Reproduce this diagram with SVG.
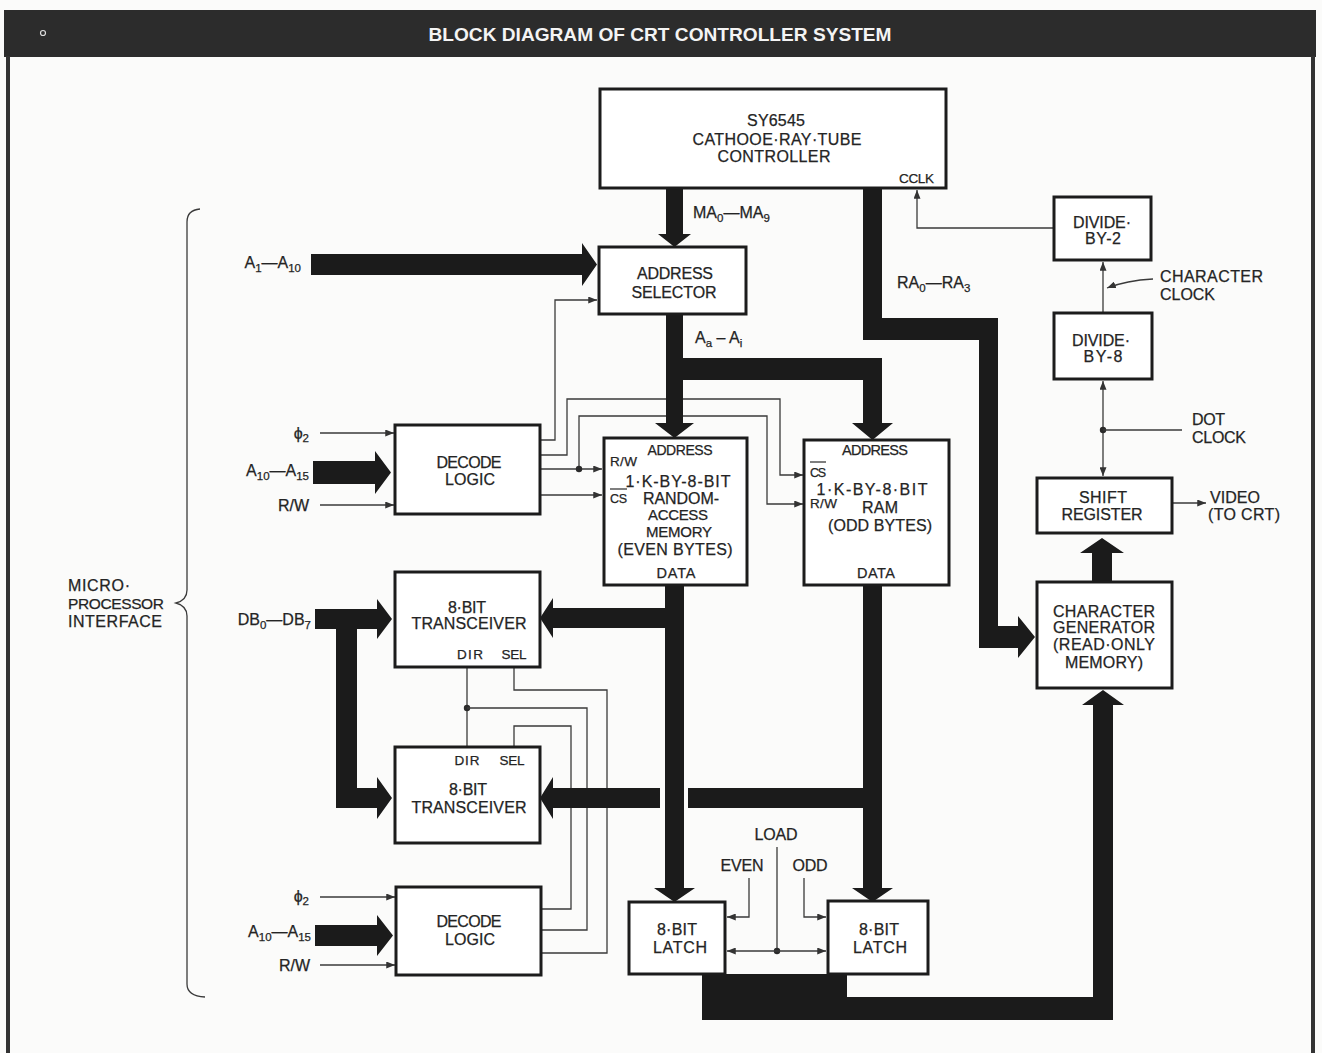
<svg xmlns="http://www.w3.org/2000/svg" width="1322" height="1053" viewBox="0 0 1322 1053">
<defs>
<marker id="ah" viewBox="0 0 10 8" refX="10" refY="4" markerWidth="9" markerHeight="7" markerUnits="userSpaceOnUse" orient="auto-start-reverse">
<path d="M0,0 L10,4 L0,8 z" fill="#333"/>
</marker>
<style>
.t{font-family:"Liberation Sans",Arial,Helvetica,sans-serif;font-size:16px;fill:#242424;stroke:#242424;stroke-width:0.25;text-anchor:middle}
.s{font-size:13.5px}
.l{text-anchor:start}
.r{text-anchor:end}
.sub{font-size:11.5px}
.box{fill:#fff;stroke:#1c1c1c;stroke-width:3}
.w{fill:none;stroke:#3a3a3a;stroke-width:1.3}
.bus{fill:#1b1b1b}
.dot{fill:#2a2a2a}
.ttl{font-family:"Liberation Sans",Arial,Helvetica,sans-serif;font-size:19px;font-weight:bold;fill:#f4f4f4;text-anchor:middle}
</style>
</defs>

<!-- page -->
<rect width="1322" height="1053" fill="#fbfbfa"/>
<rect x="4" y="10" width="1312" height="47" fill="#2c2c2c"/>
<circle cx="43" cy="33" r="2.5" fill="none" stroke="#ddd" stroke-width="1.2"/>
<text class="ttl" x="660" y="41" textLength="463" lengthAdjust="spacingAndGlyphs">BLOCK DIAGRAM OF CRT CONTROLLER SYSTEM</text>
<rect x="6" y="56" width="4" height="997" fill="#333"/>
<rect x="1311" y="56" width="4" height="997" fill="#333"/>

<!-- microprocessor interface brace -->
<g id="interface">
<path class="w" d="M200 209 Q187 210 187 222 V590 Q187 600 176 603 Q187 606 187 616 V984 Q187 996 205 997"/>
<text class="t l" x="68" y="591" textLength="62">MICRO·</text>
<text class="t l" x="68" y="609" style="font-size:15.5px" textLength="96">PROCESSOR</text>
<text class="t l" x="68" y="627" textLength="94">INTERFACE</text>
</g>

<g id="connectors">
<!-- thin control wires -->
<path class="w" d="M320 433H394" marker-end="url(#ah)"/>
<path class="w" d="M320 505H394" marker-end="url(#ah)"/>
<path class="w" d="M540 440H555V300H597" marker-end="url(#ah)"/>
<path class="w" d="M540 455H567V399H780V475H803" marker-end="url(#ah)"/>
<path class="w" d="M540 469H602" marker-end="url(#ah)"/>
<path class="w" d="M579 469V416H767V504H803" marker-end="url(#ah)"/>
<path class="w" d="M540 495H602" marker-end="url(#ah)"/>
<circle class="dot" cx="579" cy="469" r="3.2"/>

<path class="w" d="M467 667V746"/>
<circle class="dot" cx="467" cy="708" r="3.2"/>
<path class="w" d="M467 708H587V930H542"/>
<path class="w" d="M514 667V690H607V953H542"/>
<path class="w" d="M514 746V726H571V909H542"/>
<path class="w" d="M320 897H395" marker-end="url(#ah)"/>
<path class="w" d="M320 965H395" marker-end="url(#ah)"/>

<path class="w" d="M777 847V951"/>
<circle class="dot" cx="777" cy="951" r="3.2"/>
<path class="w" d="M777 951H727" marker-end="url(#ah)"/>
<path class="w" d="M777 951H826" marker-end="url(#ah)"/>
<path class="w" d="M749 878V917H727" marker-end="url(#ah)"/>
<path class="w" d="M804 878V917H826" marker-end="url(#ah)"/>

<path class="w" d="M1054 228H917V190" marker-end="url(#ah)"/>
<path class="w" d="M1103 312V262" marker-end="url(#ah)"/>
<path class="w" d="M1153 279C1135 280 1120 283 1107 288" marker-end="url(#ah)"/>
<path class="w" d="M1103 381V476" marker-start="url(#ah)" marker-end="url(#ah)"/>
<circle class="dot" cx="1103" cy="430" r="3.2"/>
<path class="w" d="M1103 430H1182"/>
<path class="w" d="M1173 503H1206" marker-end="url(#ah)"/>

<!-- wide buses -->
<path class="bus" d="M666 188H683V234H691L674.5 247L658 234H666Z"/>
<path class="bus" d="M311 254H582V243L597 264.5L582 286V275H311Z"/>
<path class="bus" d="M313 461H375V451L391 472.5L375 494V484H313Z"/>
<path class="bus" d="M315 925H377V915L393 935.5L377 956V946H315Z"/>
<path class="bus" d="M315 609H377V599L392 619L377 639V629H357V788H377V777L392 798L377 819V808H336V629H315Z"/>
<path class="bus" d="M666 314H683V358H882V423H893L872.5 440L852 423H863V380H683V423H694L674.5 438L655 423H666Z"/>
<path class="bus" d="M863 188H882V318H998V626H1018V616L1035 637L1018 658V648H979V340H863Z"/>
<path class="bus" d="M665 585H684V888H695L674.5 902L654 888H665V628H553V638L540 618L553 598V608H665Z"/>
<path class="bus" d="M863 585H882V888H893L872.5 902L852 888H863V808H688V788H863Z"/>
<path class="bus" d="M660 788V808H553V819L540 798L553 777V788Z"/>
<path class="bus" d="M1092 583V553H1080L1102 538L1124 553H1112V583Z"/>
<path class="bus" d="M702 974H847V997H1093V705H1082L1103 690L1124 705H1113V1020H702Z"/>
</g>

<g id="crt-controller">
<rect class="box" x="600" y="89" width="346" height="99"/>
<text class="t" x="776" y="126" textLength="58">SY6545</text>
<text class="t" x="777" y="145" textLength="169">CATHOOE·RAY·TUBE</text>
<text class="t" x="774" y="162" textLength="113">CONTROLLER</text>
<text class="t s r" x="934" y="183" textLength="35">CCLK</text>
</g>

<g id="address-selector">
<rect class="box" x="599" y="247" width="147" height="67"/>
<text class="t" x="675" y="279" textLength="76">ADDRESS</text>
<text class="t" x="674" y="298" textLength="85">SELECTOR</text>
</g>

<g id="decode-logic-1">
<rect class="box" x="395" y="425" width="145" height="89"/>
<text class="t" x="469" y="468" textLength="65">DECODE</text>
<text class="t" x="470" y="485" textLength="50">LOGIC</text>
</g>

<g id="ram-even">
<rect class="box" x="604" y="438" width="143" height="147"/>
<text class="t" x="680" y="455" style="font-size:14px" textLength="65">ADDRESS</text>
<text class="t s l" x="610" y="466" textLength="27">R/W</text>
<text class="t" x="678" y="487" textLength="105">1·K-BY-8-BIT</text>
<path class="w" d="M610 489H627"/>
<text class="t l" x="610" y="503" style="font-size:12.5px" textLength="17">CS</text>
<text class="t" x="681" y="504" textLength="76">RANDOM-</text>
<text class="t" x="678" y="520" style="font-size:15px" textLength="60">ACCESS</text>
<text class="t" x="679" y="537" style="font-size:15px" textLength="66">MEMORY</text>
<text class="t" x="675" y="555" textLength="115">(EVEN BYTES)</text>
<text class="t" x="676" y="578" style="font-size:14.5px" textLength="39">DATA</text>
</g>

<g id="ram-odd">
<rect class="box" x="804" y="440" width="145" height="145"/>
<text class="t" x="875" y="455" style="font-size:14.5px" textLength="66">ADDRESS</text>
<path class="w" d="M810 462H826"/>
<text class="t l" x="810" y="477" style="font-size:12.5px" textLength="16">CS</text>
<text class="t" x="872" y="495" textLength="111">1·K-BY-8·BIT</text>
<text class="t s l" x="810" y="508" textLength="27">R/W</text>
<text class="t" x="880" y="513" textLength="36">RAM</text>
<text class="t" x="880" y="531" textLength="104">(ODD BYTES)</text>
<text class="t" x="876" y="578" style="font-size:14.5px" textLength="38">DATA</text>
</g>

<g id="transceiver-1">
<rect class="box" x="395" y="572" width="145" height="95"/>
<text class="t" x="467" y="613" textLength="38">8·BIT</text>
<text class="t" x="469" y="629" textLength="115">TRANSCEIVER</text>
<text class="t s" x="470" y="659" textLength="26">DIR</text>
<text class="t s" x="514" y="659" textLength="25">SEL</text>
</g>

<g id="transceiver-2">
<rect class="box" x="395" y="747" width="145" height="96"/>
<text class="t s" x="467" y="765" textLength="25">DIR</text>
<text class="t s" x="512" y="765" textLength="25">SEL</text>
<text class="t" x="468" y="795" textLength="38">8·BIT</text>
<text class="t" x="469" y="813" textLength="115">TRANSCEIVER</text>
</g>

<g id="decode-logic-2">
<rect class="box" x="396" y="887" width="145" height="88"/>
<text class="t" x="469" y="927" textLength="65">DECODE</text>
<text class="t" x="470" y="945" textLength="50">LOGIC</text>
</g>

<g id="latch-even">
<rect class="box" x="629" y="902" width="96" height="72"/>
<text class="t" x="677" y="935" textLength="40">8·BIT</text>
<text class="t" x="680" y="953" textLength="54">LATCH</text>
</g>

<g id="latch-odd">
<rect class="box" x="828" y="901" width="100" height="73"/>
<text class="t" x="879" y="935" textLength="40">8·BIT</text>
<text class="t" x="880" y="953" textLength="54">LATCH</text>
</g>

<g id="character-generator">
<rect class="box" x="1037" y="582" width="135" height="106"/>
<text class="t" x="1104" y="617" textLength="102">CHARACTER</text>
<text class="t" x="1104" y="633" textLength="102">GENERATOR</text>
<text class="t" x="1104" y="650" textLength="102">(READ·ONLY</text>
<text class="t" x="1104" y="668" textLength="78">MEMORY)</text>
</g>

<g id="shift-register">
<rect class="box" x="1037" y="478" width="135" height="55"/>
<text class="t" x="1103" y="503" textLength="48">SHIFT</text>
<text class="t" x="1102" y="520" textLength="81">REGISTER</text>
</g>

<g id="divide-by-8">
<rect class="box" x="1054" y="313" width="98" height="66"/>
<text class="t" x="1101" y="346" textLength="58">DIVIDE·</text>
<text class="t" x="1103" y="362" textLength="39">BY-8</text>
</g>

<g id="divide-by-2">
<rect class="box" x="1054" y="197" width="97" height="63"/>
<text class="t" x="1102" y="228" textLength="58">DIVIDE·</text>
<text class="t" x="1103" y="244" textLength="36">BY-2</text>
</g>

<!-- signal labels -->
<g id="labels">
<text class="t l" x="693" y="218">MA<tspan class="sub" dy="4">0</tspan><tspan dy="-4">—MA</tspan><tspan class="sub" dy="4">9</tspan></text>
<text class="t l" x="897" y="288">RA<tspan class="sub" dy="4">0</tspan><tspan dy="-4">—RA</tspan><tspan class="sub" dy="4">3</tspan></text>
<text class="t l" x="695" y="343">A<tspan class="sub" dy="4">a</tspan><tspan dy="-4"> – A</tspan><tspan class="sub" dy="4">i</tspan></text>
<text class="t r" x="301" y="268">A<tspan class="sub" dy="4">1</tspan><tspan dy="-4">—A</tspan><tspan class="sub" dy="4">10</tspan></text>
<text class="t r" x="309" y="439">ϕ<tspan class="sub" dy="3">2</tspan></text>
<text class="t r" x="309" y="476">A<tspan class="sub" dy="4">10</tspan><tspan dy="-4">—A</tspan><tspan class="sub" dy="4">15</tspan></text>
<text class="t r" x="309" y="511">R/W</text>
<text class="t r" x="311" y="625">DB<tspan class="sub" dy="4">0</tspan><tspan dy="-4">—DB</tspan><tspan class="sub" dy="4">7</tspan></text>
<text class="t r" x="309" y="902">ϕ<tspan class="sub" dy="3">2</tspan></text>
<text class="t r" x="311" y="937">A<tspan class="sub" dy="4">10</tspan><tspan dy="-4">—A</tspan><tspan class="sub" dy="4">15</tspan></text>
<text class="t r" x="310" y="971">R/W</text>
<text class="t" x="776" y="840" textLength="43">LOAD</text>
<text class="t" x="742" y="871" textLength="43">EVEN</text>
<text class="t" x="810" y="871" textLength="35">ODD</text>
<text class="t l" x="1160" y="282" textLength="103">CHARACTER</text>
<text class="t l" x="1160" y="300" textLength="55">CLOCK</text>
<text class="t l" x="1192" y="425" textLength="33">DOT</text>
<text class="t l" x="1192" y="443" textLength="54">CLOCK</text>
<text class="t l" x="1210" y="503" textLength="50">VIDEO</text>
<text class="t l" x="1208" y="520" textLength="72">(TO CRT)</text>
</g>
</svg>
